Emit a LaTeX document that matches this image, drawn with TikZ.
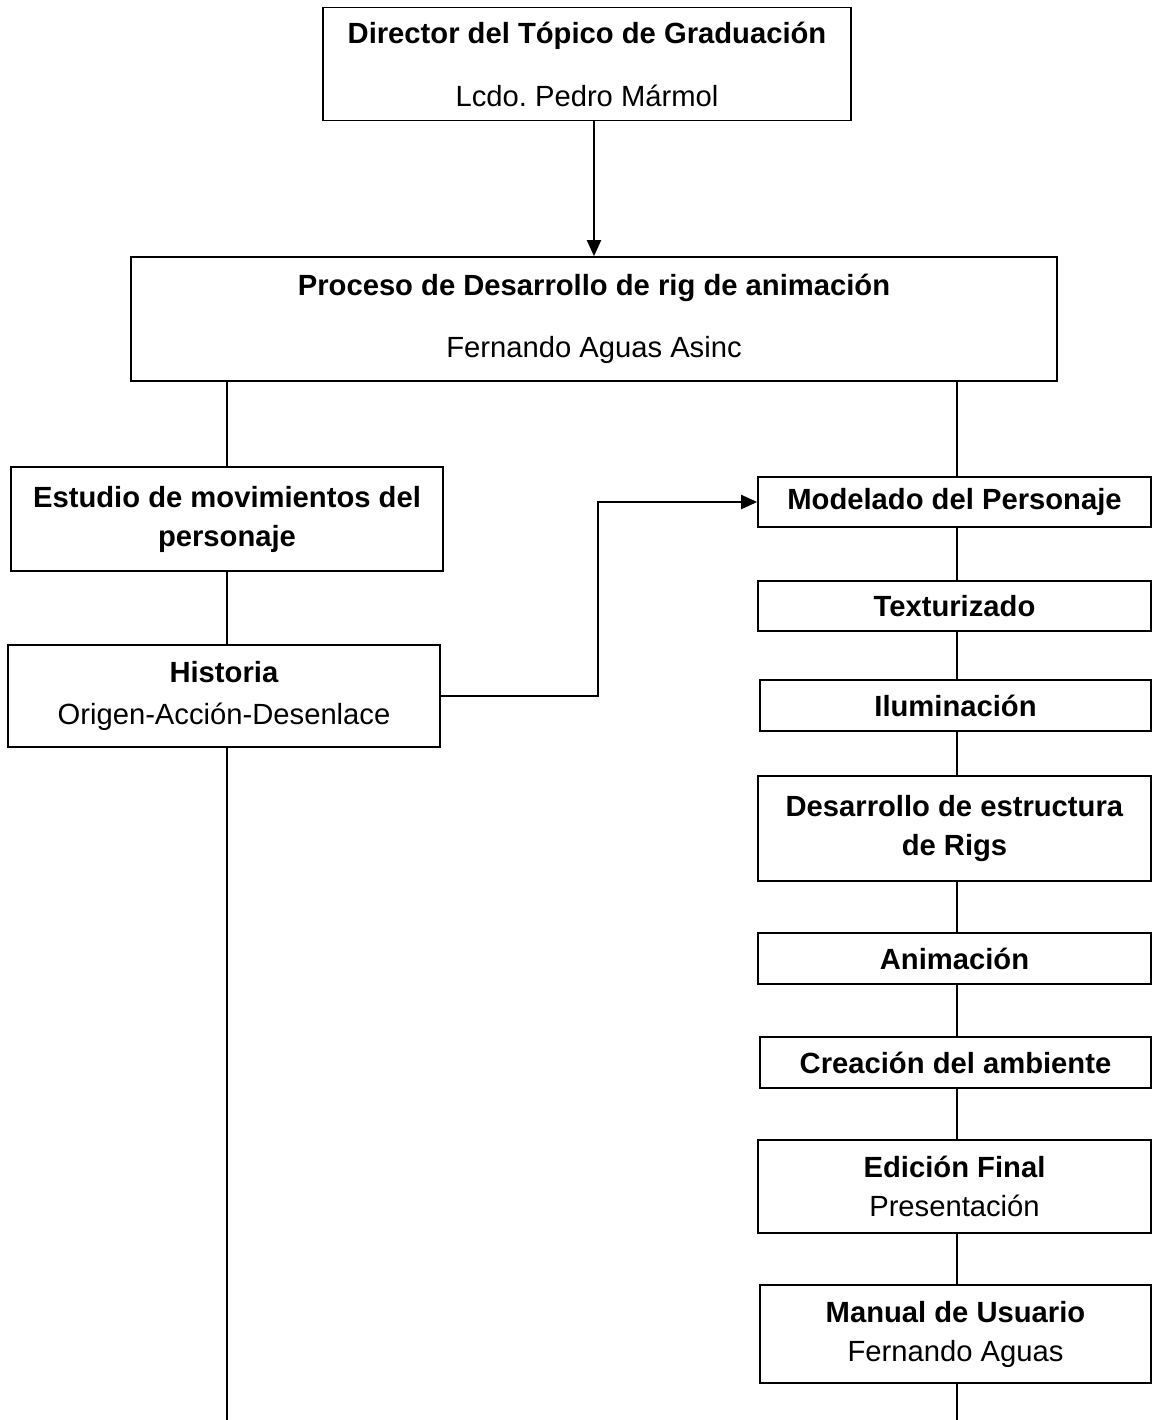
\documentclass[tikz,border=0pt]{standalone}
\usepackage{fontspec}
\setmainfont{Liberation Sans}
\usetikzlibrary{arrows.meta}

\begin{document}
\begin{tikzpicture}[
    x=0.5pt, y=-0.5pt,
    caja/.style={
      rectangle,
      draw,
      line width=.85pt,
      inner sep=0pt,
      align=center,
      font=\fontsize{14.6}{19.5}\selectfont},
    linea/.style={line width=.75pt},
    flecha/.style={line width=1pt, -{Triangle[length=8pt,width=7pt]}}
    ]

  \useasboundingbox (0,0) rectangle (1152,1420);

  \node at (587,64) (director) [caja, minimum width=264pt, minimum height=56.5pt] {\textbf{Director del Tópico de Graduación}\\[12pt]Lcdo.\ Pedro Mármol};
  \node at (594,319) (proceso) [caja, minimum width=463pt, minimum height=62pt] {\textbf{Proceso de Desarrollo de rig de animación}\\[11.5pt]Fernando Aguas Asinc};

  \node at (227,519) (estudio) [caja, minimum width=216pt, minimum height=52pt] {\textbf{Estudio de movimientos del}\\\textbf{personaje}};
  \node at (224,696) (historia) [caja, minimum width=216pt, minimum height=51pt] {\textbf{Historia}\\[1.5pt]Origen-Acción-Desenlace};

  \node at (954.5,502) (modelado) [caja, minimum width=196.5pt, minimum height=25pt] {\textbf{Modelado del Personaje}};
  \node at (954.5,606) (texturizado) [caja, minimum width=196.5pt, minimum height=25pt] {\textbf{Texturizado}};
  \node at (955.5,705.5) (iluminacion) [caja, minimum width=195.5pt, minimum height=25.5pt] {\textbf{Iluminación}};
  \node at (954.5,828.5) (rigs) [caja, minimum width=196.5pt, minimum height=52.5pt] {\textbf{Desarrollo de estructura}\\\textbf{de Rigs}};
  \node at (954.5,958.5) (animacion) [caja, minimum width=196.5pt, minimum height=25.5pt] {\textbf{Animación}};
  \node at (955.5,1062.5) (ambiente) [caja, minimum width=195.5pt, minimum height=25.5pt] {\textbf{Creación del ambiente}};
  \node at (954.5,1186.5) (edicion) [caja, minimum width=196.5pt, minimum height=46.5pt] {\textbf{Edición Final}\\Presentación};
  \node at (955.5,1334) (manual) [caja, minimum width=195.5pt, minimum height=49pt] {\textbf{Manual de Usuario}\\Fernando Aguas};

  \coordinate (ejeL) at (227,0);
  \coordinate (ejeR) at (957,0);
  \coordinate (codo) at (598,0);
  \coordinate (finL) at (227,1420);
  \coordinate (finR) at (957,1420);

  \path [flecha] (proceso.north |- director.south) edge (proceso.north);

  \path [linea] (ejeL |- proceso.south) edge (ejeL |- estudio.north);
  \path [linea] (ejeR |- proceso.south) edge (ejeR |- modelado.north);
  \path [linea] (ejeL |- estudio.south) edge (ejeL |- historia.north);
  \path [linea] (ejeL |- historia.south) edge (finL);

  \foreach \a/\b in {modelado/texturizado, texturizado/iluminacion, iluminacion/rigs, rigs/animacion,
                     animacion/ambiente, ambiente/edicion, edicion/manual}
    \draw [linea] (ejeR |- \a.south) -- (ejeR |- \b.north);
  \path [linea] (ejeR |- manual.south) edge (finR);

  \draw [flecha] (historia.east) -| (codo |- modelado.west) -- (modelado.west);

\end{tikzpicture}
\end{document}
